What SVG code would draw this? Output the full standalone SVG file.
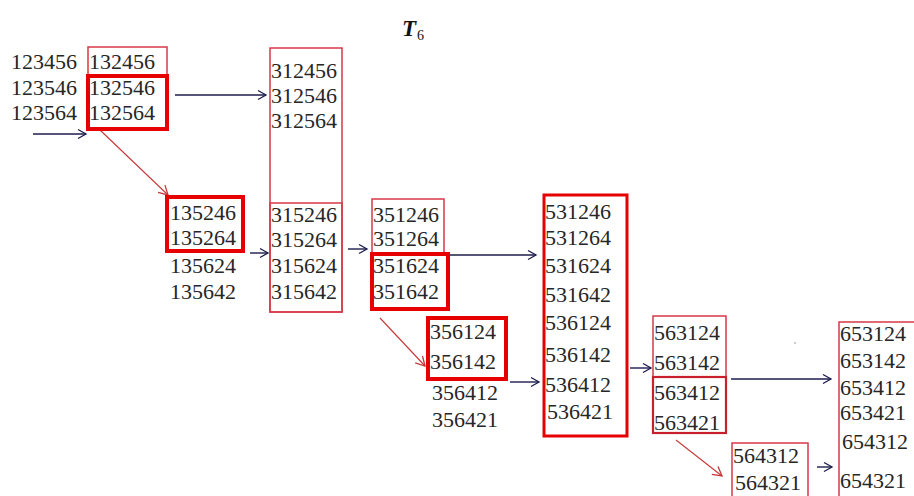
<svg xmlns="http://www.w3.org/2000/svg" width="914" height="496" viewBox="0 0 914 496">
<defs>
<style>
text{font-family:"Liberation Serif","Times New Roman",serif;font-size:22px;fill:#262626}
.thin{fill:none;stroke:#d8384a;stroke-width:1.5}
.mid{fill:none;stroke:#c8202c;stroke-width:2.2}
.thick{fill:none;stroke:#e60000;stroke-width:4}
.blue{stroke:#1c1c4c;stroke-width:1.4;fill:none}
.red{stroke:#c83838;stroke-width:1.1;fill:none}
</style>
<marker id="ab" markerWidth="12" markerHeight="12" refX="10" refY="6" orient="auto" markerUnits="userSpaceOnUse">
<path d="M2,1.5 L10,6 L2,10.5" fill="none" stroke="#1c1c4c" stroke-width="1.3"/>
</marker>
<marker id="ar" markerWidth="14" markerHeight="14" refX="11" refY="7" orient="auto" markerUnits="userSpaceOnUse">
<path d="M2,2 L11,7 L2,12" fill="none" stroke="#c83838" stroke-width="1.3"/>
</marker>
</defs>
<rect width="914" height="496" fill="#ffffff"/>
<g id="title">
<text x="402" y="36" style="font-style:italic;font-weight:bold;font-size:23px;fill:#111">T</text>
<text x="417" y="40" style="font-size:14px;fill:#111">6</text>
</g>
<g id="connectors">
<line class="blue" x1="33" y1="134" x2="86" y2="134" marker-end="url(#ab)"/>
<line class="blue" x1="175" y1="95" x2="266" y2="95" marker-end="url(#ab)"/>
<line class="red" x1="100" y1="130" x2="168" y2="195" marker-end="url(#ar)"/>
<line class="blue" x1="250" y1="253" x2="268" y2="253" marker-end="url(#ab)"/>
<line class="blue" x1="348" y1="249" x2="367" y2="249" marker-end="url(#ab)"/>
<line class="blue" x1="450" y1="255" x2="536" y2="255" marker-end="url(#ab)"/>
<line class="red" x1="380" y1="318" x2="425" y2="366" marker-end="url(#ar)"/>
<line class="blue" x1="510" y1="382" x2="539" y2="382" marker-end="url(#ab)"/>
<line class="blue" x1="630" y1="368" x2="651" y2="368" marker-end="url(#ab)"/>
<line class="blue" x1="731" y1="379" x2="831" y2="379" marker-end="url(#ab)"/>
<line class="red" x1="676" y1="440" x2="722" y2="476" marker-end="url(#ar)"/>
<line class="blue" x1="817" y1="467" x2="832" y2="467" marker-end="url(#ab)"/>
</g>
<g id="n-123">
<text x="11" y="69">123456</text>
<text x="11" y="95">123546</text>
<text x="11" y="120">123564</text>
</g>
<g id="n-132">
<rect class="thin" x="88" y="47" width="79" height="28"/>
<rect class="thick" x="88" y="76" width="79" height="53"/>
<text x="89" y="69">132456</text>
<text x="89" y="95">132546</text>
<text x="89" y="120">132564</text>
</g>
<g id="n-312">
<rect class="thin" x="270" y="48" width="72" height="264"/>
<rect class="thin" x="270" y="203" width="72" height="109"/>
<text x="271" y="78">312456</text>
<text x="271" y="103">312546</text>
<text x="271" y="128">312564</text>
<text x="271" y="222">315246</text>
<text x="271" y="247">315264</text>
<text x="271" y="273">315624</text>
<text x="271" y="299">315642</text>
</g>
<g id="n-135">
<rect class="thick" x="167" y="197" width="76" height="54"/>
<text x="170" y="220">135246</text>
<text x="170" y="245">135264</text>
<text x="170" y="273">135624</text>
<text x="170" y="299">135642</text>
</g>
<g id="n-351">
<rect class="thin" x="372" y="199" width="72" height="54"/>
<rect class="thick" x="372" y="254" width="76" height="55"/>
<text x="373" y="222">351246</text>
<text x="373" y="246">351264</text>
<text x="373" y="273">351624</text>
<text x="373" y="299">351642</text>
</g>
<g id="n-356">
<rect class="thick" x="428" y="318" width="78" height="61"/>
<text x="430" y="339">356124</text>
<text x="430" y="369">356142</text>
<text x="432" y="400">356412</text>
<text x="432" y="427">356421</text>
</g>
<g id="n-531">
<rect class="thick" x="544" y="195" width="83" height="241" style="stroke-width:3"/>
<text x="545" y="219">531246</text>
<text x="545" y="245">531264</text>
<text x="545" y="273">531624</text>
<text x="545" y="302">531642</text>
<text x="545" y="330">536124</text>
<text x="545" y="362">536142</text>
<text x="545" y="392">536412</text>
<text x="547" y="419">536421</text>
</g>
<g id="n-563">
<rect class="thin" x="653" y="316" width="73" height="61"/>
<rect class="mid" x="653" y="377" width="73" height="56"/>
<text x="654" y="340">563124</text>
<text x="654" y="370">563142</text>
<text x="654" y="400">563412</text>
<text x="654" y="430">563421</text>
</g>
<g id="n-564">
<rect class="thin" x="732" y="443" width="76" height="60"/>
<text x="733" y="463">564312</text>
<text x="735" y="490">564321</text>
</g>
<g id="n-653">
<rect class="thin" x="839" y="322" width="80" height="180"/>
<text x="840" y="341">653124</text>
<text x="840" y="368">653142</text>
<text x="840" y="395">653412</text>
<text x="840" y="420">653421</text>
<text x="842" y="449">654312</text>
<text x="840" y="488">654321</text>
</g>
<circle cx="795" cy="343" r="0.8" fill="#888"/>
</svg>
